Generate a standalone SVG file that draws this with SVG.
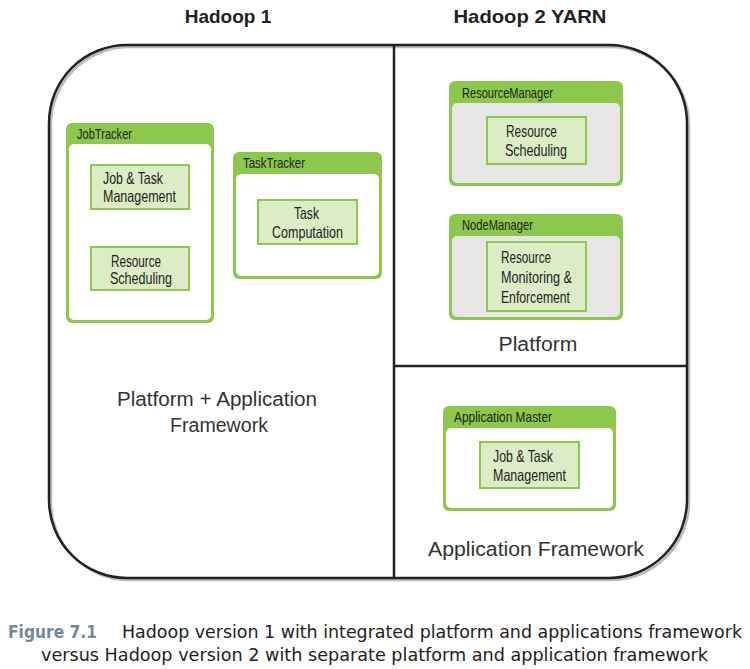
<svg xmlns="http://www.w3.org/2000/svg" width="750" height="669" viewBox="0 0 750 669">
<style>
.title{font-family:"Liberation Sans",Arial,sans-serif;font-weight:bold;font-size:19px;fill:#222;text-anchor:middle}
.big{font-family:"Liberation Sans",Arial,sans-serif;font-size:20px;fill:#333;text-anchor:middle}
.hdr{font-family:"Liberation Sans",Arial,sans-serif;font-size:15px;fill:#222}
.lbl{font-family:"Liberation Sans",Arial,sans-serif;font-size:16.5px;fill:#222}
.c{text-anchor:middle}
.outer{fill:#8cc84b}
.innerW{fill:#fff}
.innerG{fill:#e6e6e6}
.box{fill:#dcedc5;stroke:#8cc84b;stroke-width:2}
.frame{fill:none;stroke:#222;stroke-width:2.5}
.cap{font-family:"DejaVu Sans Condensed","DejaVu Sans",sans-serif;font-size:18px;fill:#222}
.capb{font-weight:bold;fill:#75879a}
</style>
<rect width="750" height="669" fill="#fff"/>
<text class="title" x="228" y="23">Hadoop 1</text>
<text class="title" x="530" y="23" textLength="153" lengthAdjust="spacingAndGlyphs">Hadoop 2 YARN</text>
<g id="frame">
<rect x="51" y="47" width="638" height="533" rx="78" ry="78" fill="none" stroke="#bbb" stroke-width="2.5"/>
<rect class="frame" x="49" y="45" width="638" height="533" rx="78" ry="78" fill="#fff"/>
<line x1="394" y1="45" x2="394" y2="578" stroke="#222" stroke-width="2.5"/>
<line x1="394" y1="366" x2="687" y2="366" stroke="#222" stroke-width="2.5"/>
</g>
<g id="jobtracker">
<rect class="outer" x="66" y="123" width="148" height="200" rx="6"/>
<rect class="innerW" x="69" y="144" width="142" height="176" rx="5"/>
<text class="hdr" x="77" y="139" textLength="55" lengthAdjust="spacingAndGlyphs">JobTracker</text>
</g>
<g id="jt-jobtask">
<rect class="box" x="91" y="165" width="98" height="44"/>
<text class="lbl" x="103" y="184" textLength="60" lengthAdjust="spacingAndGlyphs">Job &amp; Task</text>
<text class="lbl" x="103" y="202" textLength="73" lengthAdjust="spacingAndGlyphs">Management</text>
</g>
<g id="jt-resource">
<rect class="box" x="91" y="247" width="98" height="43"/>
<text class="lbl" x="111" y="267" textLength="50" lengthAdjust="spacingAndGlyphs">Resource</text>
<text class="lbl" x="110" y="284" textLength="62" lengthAdjust="spacingAndGlyphs">Scheduling</text>
</g>
<g id="tasktracker">
<rect class="outer" x="233" y="152" width="149" height="127" rx="6"/>
<rect class="innerW" x="236" y="174" width="143" height="102" rx="5"/>
<text class="hdr" x="243" y="168" textLength="62" lengthAdjust="spacingAndGlyphs">TaskTracker</text>
</g>
<g id="tt-task">
<rect class="box" x="258" y="200" width="99" height="44"/>
<text class="lbl" x="294" y="219" textLength="25" lengthAdjust="spacingAndGlyphs">Task</text>
<text class="lbl" x="272" y="238" textLength="71" lengthAdjust="spacingAndGlyphs">Computation</text>
</g>
<g id="resourcemanager">
<rect class="outer" x="449" y="81" width="174" height="105" rx="6"/>
<rect class="innerG" x="452" y="103" width="168" height="80" rx="5"/>
<text class="hdr" x="462" y="98" textLength="91" lengthAdjust="spacingAndGlyphs">ResourceManager</text>
</g>
<g id="rm-resource">
<rect class="box" x="487" y="117" width="99" height="47"/>
<text class="lbl" x="506" y="137" textLength="51" lengthAdjust="spacingAndGlyphs">Resource</text>
<text class="lbl" x="505" y="156" textLength="62" lengthAdjust="spacingAndGlyphs">Scheduling</text>
</g>
<g id="nodemanager">
<rect class="outer" x="449" y="214" width="174" height="106" rx="6"/>
<rect class="innerG" x="452" y="236" width="168" height="81" rx="5"/>
<text class="hdr" x="462" y="230" textLength="71" lengthAdjust="spacingAndGlyphs">NodeManager</text>
</g>
<g id="nm-monitor">
<rect class="box" x="487" y="242" width="99" height="69"/>
<text class="lbl" x="501" y="263" textLength="50" lengthAdjust="spacingAndGlyphs">Resource</text>
<text class="lbl" x="501" y="283" textLength="71" lengthAdjust="spacingAndGlyphs">Monitoring &amp;</text>
<text class="lbl" x="501" y="303" textLength="69" lengthAdjust="spacingAndGlyphs">Enforcement</text>
</g>
<g id="appmaster">
<rect class="outer" x="443" y="406" width="173" height="105" rx="6"/>
<rect class="innerW" x="446" y="428" width="167" height="80" rx="5"/>
<text class="hdr" x="454" y="422" textLength="98" lengthAdjust="spacingAndGlyphs">Application Master</text>
</g>
<g id="am-jobtask">
<rect class="box" x="480" y="442" width="99" height="46"/>
<text class="lbl" x="493" y="462" textLength="60" lengthAdjust="spacingAndGlyphs">Job &amp; Task</text>
<text class="lbl" x="493" y="481" textLength="73" lengthAdjust="spacingAndGlyphs">Management</text>
</g>
<g id="labels">
<text class="big" x="217" y="406" textLength="200" lengthAdjust="spacingAndGlyphs">Platform + Application</text>
<text class="big" x="219" y="432" textLength="98" lengthAdjust="spacingAndGlyphs">Framework</text>
<text class="big" x="538" y="351" textLength="79" lengthAdjust="spacingAndGlyphs">Platform</text>
<text class="big" x="536" y="556" textLength="216" lengthAdjust="spacingAndGlyphs">Application Framework</text>
</g>
<g id="caption">
<text class="cap capb" x="8" y="638" textLength="89" lengthAdjust="spacingAndGlyphs">Figure 7.1</text>
<text class="cap" x="122" y="638" textLength="620" lengthAdjust="spacingAndGlyphs">Hadoop version 1 with integrated platform and applications framework</text>
<text class="cap" x="41" y="661" textLength="667" lengthAdjust="spacingAndGlyphs">versus Hadoop version 2 with separate platform and application framework</text>
</g>
<g id="connectors"></g>
</svg>
